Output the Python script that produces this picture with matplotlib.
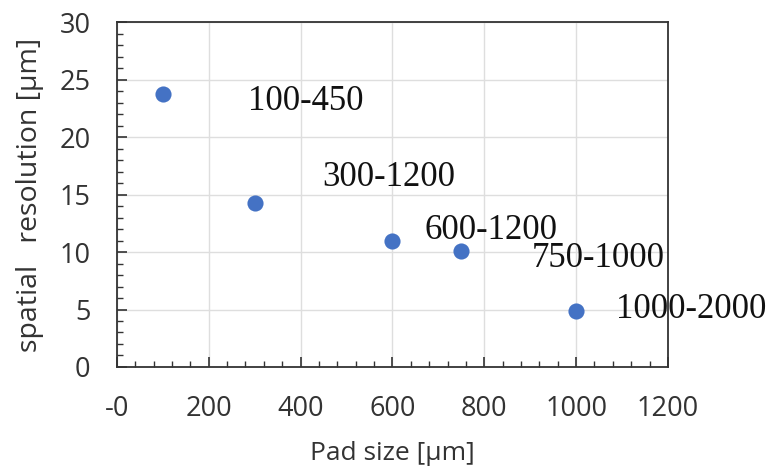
import matplotlib
matplotlib.use("Agg")
import matplotlib.pyplot as plt
from matplotlib.ticker import FixedLocator, FixedFormatter, MultipleLocator

# Data
pad_size = [100, 300, 600, 750, 1000]
resolution = [23.7, 14.3, 11.0, 10.1, 4.9]
range_labels = ["100-450", "300-1200", "600-1200", "750-1000", "1000-2000"]
x_ticks = [0, 200, 400, 600, 800, 1000, 1200]
x_tick_labels = ["-0", "200", "400", "600", "800", "1000", "1200"]
y_ticks = [0, 5, 10, 15, 20, 25, 30]

# label offsets in pixels (dx, dy to text baseline-left)
label_offsets = [(85, -16), (68, 17), (32, 2), (70, -16), (40, -7)]

fig = plt.figure(figsize=(7.74, 4.69), dpi=100)
ax = fig.add_axes([0.151, 0.2175, 0.712, 0.7355])

ax.scatter(pad_size, resolution, s=135, color="#4472C4", zorder=3, linewidths=0)

for x, y, lab, (dx, dy) in zip(pad_size, resolution, range_labels, label_offsets):
    ax.annotate(lab, (x, y), xytext=(dx, dy), textcoords="offset pixels",
                ha="left", va="baseline", fontsize=25,
                family="Liberation Serif", color="#111111", zorder=4,
                annotation_clip=False)

ax.set_xlim(0, 1200)
ax.set_ylim(0, 30)
ax.xaxis.set_major_locator(FixedLocator(x_ticks))
ax.xaxis.set_major_formatter(FixedFormatter(x_tick_labels))
ax.xaxis.set_minor_locator(MultipleLocator(40))
ax.yaxis.set_major_locator(FixedLocator(y_ticks))
ax.yaxis.set_minor_locator(MultipleLocator(1))

ax.grid(True, which="major", color="#dedede", linewidth=1.0, zorder=0)
ax.set_axisbelow(True)

ax.tick_params(axis="both", which="major", direction="in", length=7, width=1.2,
               color="#333333", labelsize=19.5, labelcolor="#333333")
ax.tick_params(axis="both", which="minor", direction="in", length=4, width=1.0,
               color="#333333")
ax.tick_params(axis="x", pad=20)
ax.tick_params(axis="y", pad=19)
for lab in ax.get_xticklabels() + ax.get_yticklabels():
    lab.set_family("Open Sans")

for sp in ax.spines.values():
    sp.set_color("#333333")
    sp.set_linewidth(1.3)

ax.set_xlabel("Pad size [µm]", fontsize=19, family="Open Sans", color="#333333", labelpad=13)
ax.set_ylabel("spatial   resolution [µm]", fontsize=20.5, family="Open Sans", color="#333333", labelpad=11)

fig.savefig("out.png", dpi=100)
